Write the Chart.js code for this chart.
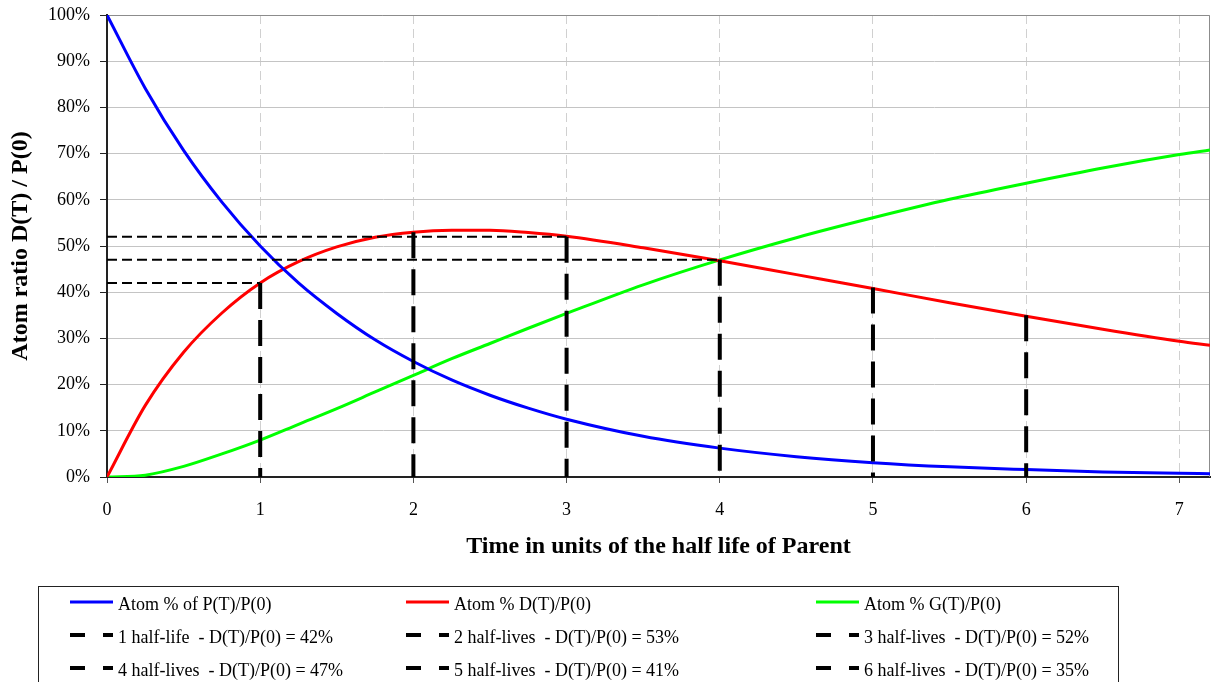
<!DOCTYPE html>
<html>
<head>
<meta charset="utf-8">
<title>Parent / daughter / granddaughter decay</title>
<script src="https://cdn.jsdelivr.net/npm/chart.js@4/dist/chart.umd.min.js"></script>
<style>
  html, body { margin: 0; padding: 0; background: #fff; }
  #wrap { position: relative; width: 1211px; height: 682px; overflow: hidden;
          font-family: 'Liberation Serif', 'Times New Roman', serif; }
  #chart { position: absolute; left: 0; top: 0; }
  #legend { position: absolute; left: 38px; top: 586px; width: 1081px; height: 130px;
            border: 1px solid #222; box-sizing: border-box; }
  #legend svg { position: absolute; overflow: visible; }
  #legend .txt { position: absolute; white-space: pre; font-size: 18px; line-height: 20px; color: #000; }
</style>
</head>
<body>
<div id="wrap">
  <canvas id="chart" width="1211" height="682"></canvas>
  <div id="legend"></div>
</div>
<script>
// Time axis (in parent half-lives) and the sampled abundances, in percent of P(0)
const halfLives        = [0, 0.25, 0.5, 0.75, 1, 1.25, 1.5, 1.75, 2, 2.25, 2.5, 2.75, 3, 3.5, 4, 4.5, 5, 5.5, 6, 6.5, 7, 7.2];
const parentPct        = [100, 84.1, 70.7, 59.5, 50, 42, 35.4, 29.7, 25, 21, 17.7, 14.9, 12.5, 8.8, 6.25, 4.4, 3.1, 2.2, 1.6, 1.1, 0.8, 0.7];
const daughterPct      = [0, 15.5, 27, 35.5, 42, 46.6, 49.8, 51.9, 53, 53.4, 53.4, 52.9, 52.1, 49.6, 46.8, 43.8, 40.8, 37.7, 34.8, 32, 29.4, 28.5];
const granddaughterPct = [0, 0.4, 2.3, 5, 8, 11.4, 14.8, 18.4, 22, 25.6, 28.9, 32.2, 35.4, 41.6, 47, 51.8, 56.1, 60.1, 63.6, 66.9, 69.8, 70.8];

// Marker lines at whole half-lives and the daughter ratio read there
const markerHalfLives = [1, 2, 3, 4, 5, 6];
const markerRatios    = [42, 53, 52, 47, 41, 35];
// Markers that also get a horizontal guide back to the y axis
const guideHalfLives  = [1, 3, 4];

const seriesLabels = ['Atom % of P(T)/P(0)', 'Atom % D(T)/P(0)', 'Atom % G(T)/P(0)'];
const seriesColors = ['#0000ff', '#ff0000', '#00ff00'];

const xTicks = [0, 1, 2, 3, 4, 5, 6, 7];
const yTicks = [0, 10, 20, 30, 40, 50, 60, 70, 80, 90, 100];

const FONT = "'Liberation Serif', 'Times New Roman', serif";

const toPoints = vals => halfLives.map((t, i) => ({ x: t, y: vals[i] }));
const markerLabel = (n, v) =>
  (n === 1 ? '1 half-life' : n + ' half-lives') + '  - D(T)/P(0) = ' + v + '%';

const curves = [parentPct, daughterPct, granddaughterPct].map((vals, i) => ({
  label: seriesLabels[i],
  data: toPoints(vals),
  borderColor: seriesColors[i],
  backgroundColor: seriesColors[i],
  borderWidth: 3,
  pointRadius: 0,
  cubicInterpolationMode: 'monotone',
  fill: false,
  order: 2,
  legendDash: []
}));

const markers = markerHalfLives.map((n, i) => ({
  label: markerLabel(n, markerRatios[i]),
  data: [{ x: n, y: markerRatios[i] }, { x: n, y: 0 }],
  borderColor: '#000',
  backgroundColor: '#000',
  borderWidth: 4,
  borderDash: [26, 11],
  pointRadius: 0,
  fill: false,
  order: 1,
  legendDash: [15, 18]
}));

const guides = guideHalfLives.map(n => {
  const v = markerRatios[markerHalfLives.indexOf(n)];
  return {
    data: [{ x: 0, y: v }, { x: n, y: v }],
    borderColor: '#000',
    borderWidth: 2,
    borderDash: [10, 5],
    pointRadius: 0,
    fill: false,
    order: 1
  };
});

// Darker outline along the top and right edges of the plot area
const plotFrame = {
  id: 'plotFrame',
  beforeDatasetsDraw(chart) {
    const { ctx, chartArea: a } = chart;
    ctx.save();
    ctx.strokeStyle = '#8c8c8c';
    ctx.lineWidth = 1;
    ctx.beginPath();
    ctx.moveTo(a.left, a.top + 0.5);
    ctx.lineTo(a.right - 0.5, a.top + 0.5);
    ctx.lineTo(a.right - 0.5, a.bottom);
    ctx.stroke();
    ctx.restore();
  }
};

const chart = new Chart(document.getElementById('chart'), {
  type: 'line',
  data: { datasets: [...curves, ...markers, ...guides] },
  plugins: [plotFrame],
  options: {
    responsive: false,
    animation: false,
    devicePixelRatio: 1,
    layout: { padding: { left: 0, top: 15, right: 1, bottom: 115 } },
    plugins: { legend: { display: false }, tooltip: { enabled: false } },
    scales: {
      x: {
        type: 'linear',
        min: 0,
        max: 7.2,
        afterFit: s => { s.height = 90; s.paddingLeft = 0; s.paddingRight = 0; },
        afterBuildTicks: s => { s.ticks = xTicks.map(v => ({ value: v })); },
        ticks: { font: { family: FONT, size: 18 }, color: '#000', padding: 16, maxRotation: 0,
                 callback: v => String(v) },
        grid: { color: '#d0d0d0', lineWidth: 1, tickLength: 6, tickColor: '#555' },
        border: { display: true, color: '#222', width: 2, dash: [9, 5] },
        title: { display: true, text: 'Time in units of the half life of Parent', color: '#000',
                 font: { family: FONT, size: 24, weight: 'bold' }, padding: { top: 0, bottom: 6 } }
      },
      y: {
        min: 0,
        max: 100,
        afterFit: s => { s.width = 107; s.paddingTop = 0; s.paddingBottom = 0; },
        afterBuildTicks: s => { s.ticks = yTicks.map(v => ({ value: v })); },
        ticks: { font: { family: FONT, size: 18 }, color: '#000', padding: 10,
                 callback: v => v + '%' },
        grid: { color: '#c4c4c4', lineWidth: 1, tickLength: 7, tickColor: '#222' },
        border: { display: true, color: '#222', width: 2 },
        title: { display: true, text: 'Atom ratio D(T) / P(0)', color: '#000',
                 font: { family: FONT, size: 24, weight: 'bold' }, padding: { top: 6, bottom: 0 } }
      }
    }
  }
});

// Three-column legend built from the chart's labelled datasets
(function buildLegend() {
  const box = document.getElementById('legend');
  const colX = [31, 367, 777];
  const rowTop = [7, 40, 73];
  const SVG = 'http://www.w3.org/2000/svg';
  chart.data.datasets.filter(ds => ds.label).forEach((ds, i) => {
    const col = i % 3, row = Math.floor(i / 3);
    const svg = document.createElementNS(SVG, 'svg');
    svg.setAttribute('width', '44');
    svg.setAttribute('height', '10');
    svg.style.left = colX[col] + 'px';
    svg.style.top = (rowTop[row] + 3) + 'px';
    const line = document.createElementNS(SVG, 'line');
    line.setAttribute('x1', '0');
    line.setAttribute('x2', '43');
    line.setAttribute('y1', '5');
    line.setAttribute('y2', '5');
    line.setAttribute('stroke', ds.borderColor);
    line.setAttribute('stroke-width', String(ds.borderWidth));
    if (ds.legendDash.length) line.setAttribute('stroke-dasharray', ds.legendDash.join(' '));
    svg.appendChild(line);
    box.appendChild(svg);
    const txt = document.createElement('div');
    txt.className = 'txt';
    txt.style.left = (colX[col] + 48) + 'px';
    txt.style.top = rowTop[row] + 'px';
    txt.textContent = ds.label;
    box.appendChild(txt);
  });
})();
</script>
</body>
</html>
